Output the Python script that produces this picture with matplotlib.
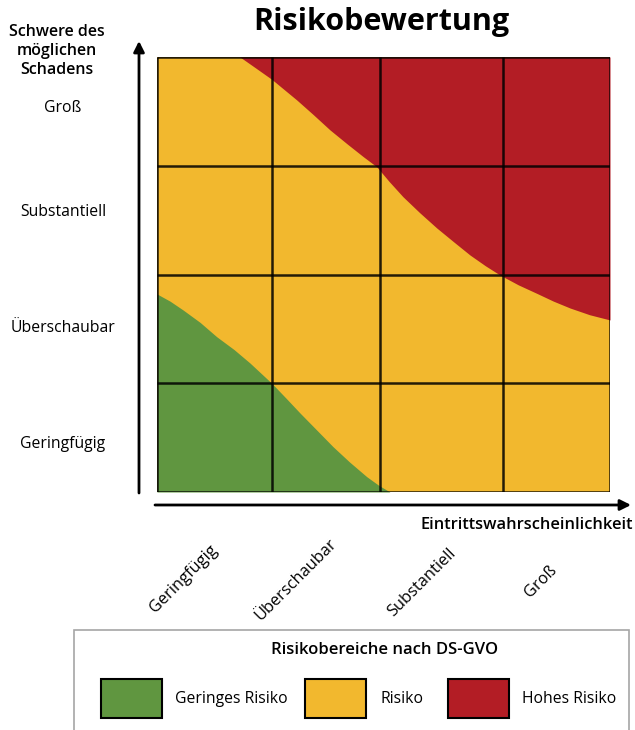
import matplotlib
matplotlib.use("Agg")
import matplotlib.pyplot as plt
from matplotlib.patches import Rectangle, FancyArrowPatch

plt.rcParams['font.family'] = ['Open Sans', 'DejaVu Sans']

# categories / labels
levels = ['Geringfügig', 'Überschaubar', 'Substantiell', 'Groß']
legend_labels = ['Geringes Risiko', 'Risiko', 'Hohes Risiko']

# grid edges in cell units (columns are slightly uneven in the source)
col_edges = [0, 1.015, 1.969, 3.055, 4]
row_edges = [0, 1, 2, 3, 4]

# boundary of the green (low risk) area
green_x = [0.0, 0.115, 0.230, 0.380, 0.527, 0.680, 0.821, 1.013, 1.140,
           1.263, 1.410, 1.554, 1.700, 1.852, 1.960, 2.057]
green_y = [1.821, 1.755, 1.674, 1.560, 1.428, 1.310, 1.186, 1.000, 0.862,
           0.726, 0.570, 0.417, 0.276, 0.141, 0.060, 0.0]

# boundary of the red (high risk) area
red_x = [0.733, 0.870, 1.013, 1.234, 1.380, 1.528, 1.680, 1.822, 1.940,
         2.050, 2.172, 2.320, 2.470, 2.620, 2.764, 2.900, 3.029, 3.190,
         3.353, 3.500, 3.647, 3.820, 4.0]
red_y = [4.0, 3.900, 3.795, 3.605, 3.470, 3.329, 3.200, 3.083, 2.991,
         2.855, 2.715, 2.568, 2.428, 2.300, 2.179, 2.080, 1.995, 1.905,
         1.827, 1.755, 1.692, 1.630, 1.582]

GREEN = '#609640'
YELLOW = '#F2B82E'
RED = '#B31D25'
colors = [GREEN, YELLOW, RED]

W, H = 635, 730


def fx(px):
    return px / W


def fy(py):
    return 1 - py / H


fig = plt.figure(figsize=(W / 100, H / 100), dpi=100)
ax = fig.add_axes([fx(157), fy(492), fx(610) - fx(157), fy(57) - fy(492)])
ax.set_xlim(0, 4)
ax.set_ylim(0, 4)

# background = medium risk
ax.add_patch(Rectangle((0, 0), 4, 4, color=YELLOW, zorder=0))
ax.fill_between(green_x, 0, green_y, color=GREEN, lw=0, zorder=1)
ax.fill_between(red_x, red_y, 4, color=RED, lw=0, zorder=1)

ax.vlines(col_edges, 0, 4, color='black', lw=1.8, alpha=0.85, zorder=3)
ax.hlines(row_edges, 0, 4, color='black', lw=1.8, alpha=0.85, zorder=3)
ax.set_xticks([])
ax.set_yticks([])
for s in ax.spines.values():
    s.set_visible(False)

# title
fig.text(fx(381), fy(22), 'Risikobewertung', fontsize=22, fontweight='bold',
         ha='center', va='center')

# axis arrows
arrow_kw = dict(arrowstyle='-|>', color='black', lw=2, mutation_scale=16,
                shrinkA=0, shrinkB=0)
fig.add_artist(FancyArrowPatch((fx(139), fy(493)), (fx(139), fy(41)),
                               transform=fig.transFigure, **arrow_kw))
fig.add_artist(FancyArrowPatch((fx(155), fy(505)), (fx(631), fy(505)),
                               transform=fig.transFigure, **arrow_kw))

# axis titles
fig.text(fx(57), fy(51), 'Schwere des\nmöglichen\nSchadens', fontsize=11.5,
         fontweight='semibold', ha='center', va='center', linespacing=1.25)
fig.text(fx(633), fy(525), 'Eintrittswahrscheinlichkeit', fontsize=11.8,
         fontweight='semibold', ha='right', va='center')

# y category labels
y_label_pos = [444, 328, 212, 108]
for lab, py in zip(levels, y_label_pos):
    fig.text(fx(63), fy(py), lab, fontsize=11.3, ha='center', va='center')

# x category labels (rotated)
x_label_pos = [(184, 579), (296, 580), (422, 583), (541, 582)]
for lab, (px, py) in zip(levels, x_label_pos):
    fig.text(fx(px), fy(py), lab, fontsize=11.8, ha='center', va='center',
             rotation=45, rotation_mode='anchor')

# legend box
fig.add_artist(Rectangle((fx(74), fy(735)), fx(629) - fx(74), fy(630) - fy(735),
                         transform=fig.transFigure, facecolor='white',
                         edgecolor='#a6a6a6', lw=1.2))
fig.text(fx(385), fy(650), 'Risikobereiche nach DS-GVO', fontsize=12,
         fontweight='semibold', ha='center', va='center')
patch_x = [101, 305, 448]
text_x = [175, 381, 522]
for c, lab, px, tx in zip(colors, legend_labels, patch_x, text_x):
    fig.add_artist(Rectangle((fx(px), fy(718)), fx(61), fy(679) - fy(718),
                             transform=fig.transFigure, facecolor=c,
                             edgecolor='black', lw=1.5))
    fig.text(fx(tx), fy(699), lab, fontsize=11.3, ha='left', va='center')

fig.savefig('out.png', dpi=100)
